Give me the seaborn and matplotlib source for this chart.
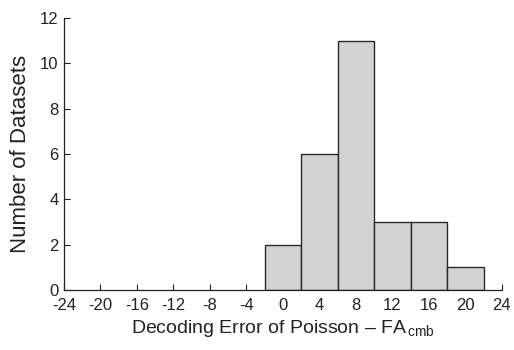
import matplotlib
matplotlib.use("Agg")
import matplotlib.pyplot as plt
import seaborn as sns
import numpy as np

bin_edges = [-2, 2, 6, 10, 14, 18, 22]
counts = [2, 6, 11, 3, 3, 1]
x_ticks = [-24, -20, -16, -12, -8, -4, 0, 4, 8, 12, 16, 20, 24]
y_ticks = [0, 2, 4, 6, 8, 10, 12]

sns.set_style("ticks")
plt.rcParams['font.family'] = ['Liberation Sans', 'DejaVu Sans']
plt.rcParams['mathtext.fontset'] = 'custom'
plt.rcParams['mathtext.rm'] = 'Liberation Sans'
plt.rcParams['axes.unicode_minus'] = False

centers = [(a + b) / 2 for a, b in zip(bin_edges[:-1], bin_edges[1:])]

fig = plt.figure(figsize=(5.14, 3.5), dpi=100)
ax = fig.add_axes([0.1245, 0.1714, 0.852, 0.777])
sns.histplot(x=centers, weights=counts, bins=bin_edges, ax=ax,
             color="#d3d3d3", edgecolor="#2a2a2a", linewidth=1.0, alpha=1)
ax.set_xlim(-24, 24)
ax.set_ylim(0, 12)
ax.set_xticks(x_ticks)
ax.set_yticks(y_ticks)
ax.tick_params(direction='in', length=4, width=0.8, labelsize=12, colors='#222222')
ax.tick_params(axis='x', pad=5.5)
ax.tick_params(axis='y', pad=4)
for s in ['top', 'right']:
    ax.spines[s].set_visible(False)
for s in ['left', 'bottom']:
    ax.spines[s].set_linewidth(0.9)
    ax.spines[s].set_color('#222222')
ax.set_xlabel("Decoding Error of Poisson \u2013 FA$_{\\,\\mathrm{cmb}}$", fontsize=14, color='#222222', labelpad=4)
ax.set_ylabel("Number of Datasets", fontsize=16, color='#222222', labelpad=6)
fig.savefig("out.png", dpi=100)
